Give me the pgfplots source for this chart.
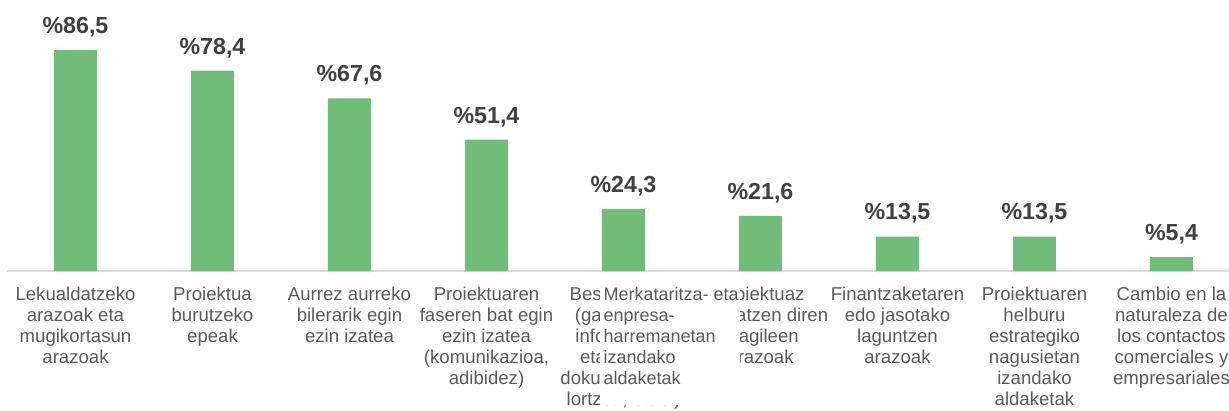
\documentclass[border=0pt]{standalone}
\usepackage{fontspec}
\setmainfont{Liberation Sans}
\usepackage{pgfplots}
\pgfplotsset{compat=1.18}
\definecolor{barg}{RGB}{115,187,122}
\definecolor{lblgray}{RGB}{89,89,89}
\definecolor{valgray}{RGB}{64,64,64}
\definecolor{axgray}{RGB}{217,217,217}
\begin{document}
\begin{tikzpicture}
\begin{axis}[
    scale only axis,
    width=611pt, height=127.75pt,
    xmin=-0.5, xmax=8.42, ymin=0, ymax=100,
    axis x line=bottom, axis y line=none,
    x axis line style={-, draw=axgray, line width=1pt},
    xtick={0,...,8}, major tick length=0pt,
    xticklabels={
        {Lekualdatzeko\\arazoak eta\\mugikortasun\\arazoak},
        {Proiektua\\burutzeko\\epeak},
        {Aurrez aurreko\\bilerarik egin\\ezin izatea},
        {Proiektuaren\\faseren bat egin\\ezin izatea\\(komunikazioa,\\adibidez)},
        {Beste batzuk\\(gaiei buruz\\informazioa\\eta datuak\\dokumentazioa\\lortzea, etab.)},
        {Proiektuaz\\arduratzen diren\\eragileen\\arazoak},
        {Finantzaketaren\\edo jasotako\\laguntzen\\arazoak},
        {Proiektuaren\\helburu\\estrategiko\\nagusietan\\izandako\\aldaketak},
        {Cambio en la\\naturaleza de\\los contactos\\comerciales y\\empresariales}},
    xticklabel style={font=\fontsize{9.3}{10.5}\selectfont, text=lblgray,
        align=center, anchor=north, inner sep=0pt, yshift=-8pt},
    clip=false,
    nodes near coords={\%\pgfmathprintnumber[fixed,fixed zerofill,precision=1,use comma,assume math mode=true]{\pgfplotspointmeta}},
    every node near coord/.append style={font=\fontsize{11.6}{13}\selectfont\bfseries,
        text=valgray, anchor=base, inner sep=0pt, yshift=8.3pt},
]
\addplot[ybar, bar width=21.5pt, fill=barg, draw=none] coordinates {
    (0,86.5) (1,78.4) (2,67.6) (3,51.4) (4,24.3) (5,21.6) (6,13.5) (7,13.5) (8,5.4)};
\coordinate (o) at (rel axis cs:0,0);
\coordinate (ovl) at (axis cs:3.83,0);
\coordinate (ovr) at (axis cs:4.85,0);
\end{axis}
% overlapping label as in the source chart
\fill[white] ([yshift=-7pt]ovl) rectangle ([yshift=-67pt]ovr);
\node[anchor=north west, inner sep=0pt, align=left, text=lblgray,
    font=\fontsize{9pt}{10.5pt}\selectfont] at ([xshift=1.5pt,yshift=-8pt]ovl)
    {Merkataritza- eta\\enpresa-\\harremanetan\\izandako\\aldaketak};
\pgfresetboundingbox
\path[use as bounding box] ([shift={(-3.5pt,-70pt)}]o) rectangle ([shift={(611pt,135.5pt)}]o);
\end{tikzpicture}
\end{document}
